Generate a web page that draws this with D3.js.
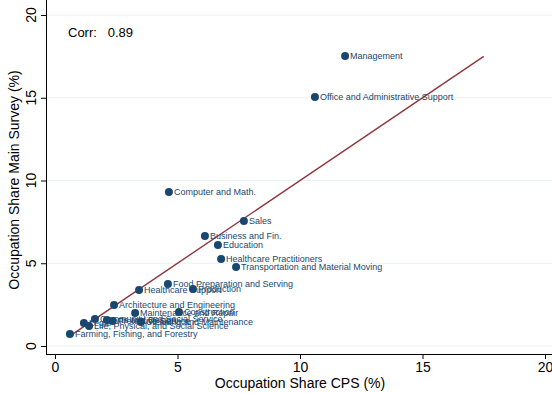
<!DOCTYPE html>
<html>
<head>
<meta charset="utf-8">
<script src="https://cdn.jsdelivr.net/npm/d3@7"></script>
<style>
  body { margin: 0; background: #fff; }
  svg { font-family: "Liberation Sans", Arial, sans-serif; }
</style>
</head>
<body>
<svg id="chart" width="552" height="393"></svg>
<script>
// occupation groups, CPS share (x) and main survey share (y), in %
const occupations = [
  'Management', 'Office and Administrative Support', 'Computer and Math.', 'Sales',
  'Business and Fin.', 'Education', 'Healthcare Practitioners',
  'Transportation and Material Moving', 'Food Preparation and Serving', 'Production',
  'Healthcare Support', 'Architecture and Engineering', 'Maintenance and Repair',
  'Construction', 'Legal', 'Life, Physical, and Social Science',
  'Community and Social Service', 'Arts and Design', 'Protective Service',
  'Cleaning and Maintenance', 'Farming, Fishing, and Forestry'
];
const cpsShare = [11.84, 10.61, 4.65, 7.71, 6.12, 6.65, 6.78, 7.39, 4.61, 5.63,
  3.43, 2.41, 3.27, 5.06, 1.18, 1.39, 1.63, 2.12, 2.35, 3.51, 0.61];
const surveyShare = [17.52, 15.05, 9.31, 7.55, 6.65, 6.10, 5.26, 4.77, 3.75, 3.44,
  3.38, 2.48, 1.99, 2.05, 1.39, 1.21, 1.63, 1.57, 1.51, 1.45, 0.73];

const xTicks = [0, 5, 10, 15, 20];
const yTicks = [0, 5, 10, 15, 20];
const corrText = 'Corr:   0.89';
const fitRange = [0.6, 17.5]; // 45 degree line

const navy = '#1a476f';
const maroon = '#90353b';

const svg = d3.select('#chart');

const x = d3.scaleLinear().domain([0, 20]).range([55, 545]);
const y = d3.scaleLinear().domain([0, 20]).range([346, 15]);

// grid lines
svg.append('g')
  .selectAll('line')
  .data(yTicks)
  .join('line')
  .attr('x1', 47).attr('x2', 552)
  .attr('y1', d => y(d)).attr('y2', d => y(d))
  .attr('stroke', '#eaf2f3')
  .attr('stroke-width', 1);

// x axis
const xAxis = svg.append('g')
  .attr('transform', 'translate(0,354)')
  .call(d3.axisBottom(x).tickValues(xTicks).tickSize(5).tickPadding(3).tickSizeOuter(0));
xAxis.select('.domain').attr('d', 'M46,0.5H552');
xAxis.selectAll('text').attr('font-size', 14).attr('fill', '#000')
  .attr('font-family', '"Liberation Sans", Arial, sans-serif');

// y axis
const yAxis = svg.append('g')
  .attr('transform', 'translate(46,0)')
  .call(d3.axisLeft(y).tickValues(yTicks).tickSize(5).tickPadding(0).tickSizeOuter(0));
yAxis.select('.domain').attr('d', 'M0.5,0V354');
yAxis.selectAll('text')
  .attr('font-size', 14).attr('fill', '#000')
  .attr('font-family', '"Liberation Sans", Arial, sans-serif')
  .attr('text-anchor', 'middle')
  .attr('x', 0).attr('dy', 0)
  .attr('transform', d => `translate(-14,${y(d)}) rotate(-90)`)
  .attr('y', 0)
  .attr('dominant-baseline', 'middle');
yAxis.selectAll('.tick').attr('transform', 'translate(0,0)');
yAxis.selectAll('.tick line').attr('y1', d => y(d) + 0.5).attr('y2', d => y(d) + 0.5);

// axis titles
svg.append('text')
  .attr('x', 300).attr('y', 388)
  .attr('text-anchor', 'middle')
  .attr('font-size', 14)
  .text('Occupation Share CPS (%)');

svg.append('text')
  .attr('transform', 'translate(19,180) rotate(-90)')
  .attr('text-anchor', 'middle')
  .attr('font-size', 14)
  .text('Occupation Share Main Survey (%)');

// 45 degree line
svg.append('line')
  .attr('x1', x(fitRange[0])).attr('y1', y(fitRange[0]))
  .attr('x2', x(fitRange[1])).attr('y2', y(fitRange[1]))
  .attr('stroke', maroon)
  .attr('stroke-width', 1.4);

const pts = occupations.map((name, i) => ({ name, cx: cpsShare[i], cy: surveyShare[i] }));

svg.append('g')
  .selectAll('circle')
  .data(pts)
  .join('circle')
  .attr('cx', d => x(d.cx))
  .attr('cy', d => y(d.cy))
  .attr('r', 4)
  .attr('fill', navy);

svg.append('g')
  .selectAll('text')
  .data(pts)
  .join('text')
  .attr('x', d => x(d.cx) + 5)
  .attr('y', d => y(d.cy))
  .attr('dy', '0.35em')
  .attr('font-size', 9)
  .attr('fill', navy)
  .text(d => d.name);

svg.append('text')
  .attr('x', 68).attr('y', 37)
  .attr('font-size', 13)
  .attr('xml:space', 'preserve')
  .style('white-space', 'pre')
  .text(corrText);
</script>
</body>
</html>
